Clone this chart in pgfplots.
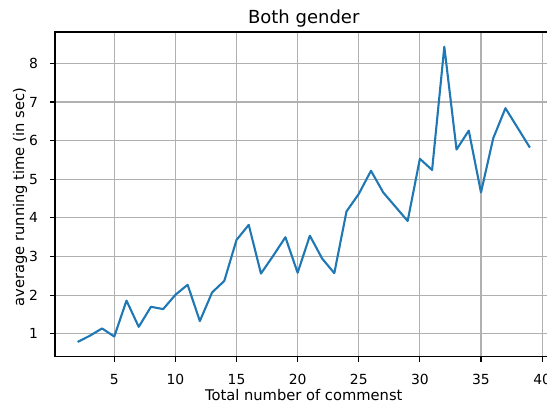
\documentclass[border=0pt]{standalone}
\usepackage{pgfplots}
\pgfplotsset{compat=1.18}
\usepackage{fontspec}
\setmainfont{DejaVu Sans}
\definecolor{mplblue}{RGB}{31,119,180}
\definecolor{gridgray}{RGB}{176,176,176}
\begin{document}
\begin{tikzpicture}
\begin{axis}[
  scale only axis,
  width=497.5pt, height=324.7pt,
  xmin=0.15, xmax=40.85,
  ymin=0.408, ymax=8.812,
  xtick={5,10,15,20,25,30,35,40},
  ytick={1,2,3,4,5,6,7,8},
  tick pos=left,
  tick align=outside,
  major tick length=4.9pt,
  every tick/.style={black, line width=1.1pt},
  axis line style={black, line width=1.1pt},
  grid=major,
  major grid style={gridgray, line width=1.1pt},
  /pgf/number format/assume math mode=true,
  tick label style={font=\fontsize{13.9}{16}\selectfont, inner sep=0pt},
  x tick label style={anchor=base, yshift=-23.3pt},
  y tick label style={anchor=east, xshift=-12pt},
  xlabel={Total number of commenst},
  ylabel={average running time (in sec)},
  every axis x label/.style={at={(axis description cs:0.5,-0.1364)}, anchor=base, inner sep=0pt, font=\fontsize{14.7}{18}\selectfont},
  every axis y label/.style={at={(axis description cs:-0.0623,0.491)}, rotate=90, anchor=base, inner sep=0pt, font=\fontsize{14.7}{18}\selectfont},
  every axis title/.style={at={(axis description cs:0.5,1.0249)}, anchor=base, inner sep=0pt, font=\fontsize{18}{21}\selectfont},
  title={Both gender},
]
\addplot[mplblue, line width=2.1pt, line join=round, mark=none] coordinates {
(2,0.79) (3,0.95) (4,1.14) (5,0.93) (6,1.86) (7,1.18) (8,1.70) (9,1.64)
(10,2.01) (11,2.27) (12,1.33) (13,2.07) (14,2.37) (15,3.43) (16,3.82)
(17,2.56) (18,3.02) (19,3.50) (20,2.58) (21,3.54) (22,2.95) (23,2.57)
(24,4.17) (25,4.62) (26,5.22) (27,4.66) (28,4.29) (29,3.92) (30,5.53)
(31,5.24) (32,8.43) (33,5.77) (34,6.26) (35,4.66) (36,6.06) (37,6.84)
(38,6.33) (39,5.82)
};
\end{axis}
\pgfresetboundingbox
\path[use as bounding box] (-55pt,-48.3pt) rectangle (492pt,356.7pt);
\end{tikzpicture}
\end{document}
